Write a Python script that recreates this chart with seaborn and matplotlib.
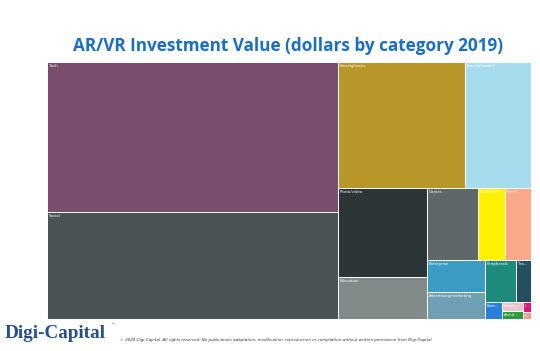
import matplotlib.pyplot as plt
from matplotlib.patches import Rectangle
import seaborn as sns

# Kategoriler ve değerler (milyon $, görselden tahmini)
categories = ["Tech", "Social", "Smartglasses", "Entertainment", "Photo/video",
              "Education", "Games", "Healthcare", "Retail", "Enterprise",
              "Advertising/marketing", "Peripherals", "Transport", "Energy",
              "Location-based", "Architecture", "Industry", "Finance"]
values = [1439, 1026, 527, 274, 261, 123, 121, 64, 62, 61, 52, 43, 21, 9.5,
          6.2, 5.5, 2.6, 1.8]
colors = ["#7b4e6e", "#4b5355", "#b8962a", "#a7dcee", "#2c3537", "#828a8a",
          "#5f6769", "#fff200", "#f9a98a", "#3b9bc3", "#6e9fb2", "#1e8a7b",
          "#244f5e", "#2a80d8", "#e9c5cc", "#2f9a3b", "#e0147e", "#f29a8f"]
# Power BI tarzı şerit grupları (her şeritteki kutu sayısı)
strips = [2, 2, 2, 3, 2, 2, 1, 2, 1, 1]

W, H = 484.0, 257.0


def layout(vals, groups, x, y, w, h):
    scale = w * h / sum(vals)
    rects = []
    i = 0
    for g in groups:
        part = [v * scale for v in vals[i:i + g]]
        s = sum(part)
        if w >= h:
            cw = s / h
            yy = y
            for a in part:
                rects.append((x, yy, cw, a / cw))
                yy += a / cw
            x += cw
            w -= cw
        else:
            rh = s / w
            xx = x
            for a in part:
                rects.append((xx, y, a / rh, rh))
                xx += a / rh
            y += rh
            h -= rh
        i += g
    return rects


sns.set_style("white")
fig = plt.figure(figsize=(5.4, 3.51), dpi=100)
ax = fig.add_axes([47 / 540, 32 / 351, 484 / 540, 257 / 351])
ax.set_xlim(0, W)
ax.set_ylim(H, 0)
ax.axis("off")

rects = layout(values, strips, 0, 0, W, H)
renderer = fig.canvas.get_renderer()
for (x, y, w, h), lab, c in zip(rects, categories, colors):
    ax.add_patch(Rectangle((x, y), w, h, facecolor=c, edgecolor="white", lw=0.7))
    if w < 6 or h < 6:
        continue
    t = ax.text(x + 2, y + 2, lab, fontsize=2.8, color="white", va="top", ha="left")
    maxw = (w - 4) * (484 / W)
    txt = lab
    while t.get_window_extent(renderer).width > maxw and len(txt) > 1:
        txt = txt[:-1]
        t.set_text(txt + "...")

fig.text(288 / 540, 1 - 46 / 351, "AR/VR Investment Value (dollars by category 2019)",
         fontsize=12.3, family="Open Sans", weight="bold", color="#1b6fc2",
         ha="center", va="center")
fig.text(5 / 540, 1 - 333 / 351, "Digi-Capital", family="Liberation Serif",
         weight="bold", fontsize=13.8, color="#24508c", ha="left", va="center")
fig.text(110 / 540, 1 - 325 / 351, "™", fontsize=3, color="#24508c", ha="left", va="center")
fig.text(120 / 540, 1 - 340 / 351,
         "© 2020 Digi-Capital. All rights reserved. No publication, adaptation, modification, "
         "reproduction or compilation without written permission from Digi-Capital",
         fontsize=2.9, style="italic", color="#333333", ha="left", va="center")

fig.savefig("out.png", dpi=100)
